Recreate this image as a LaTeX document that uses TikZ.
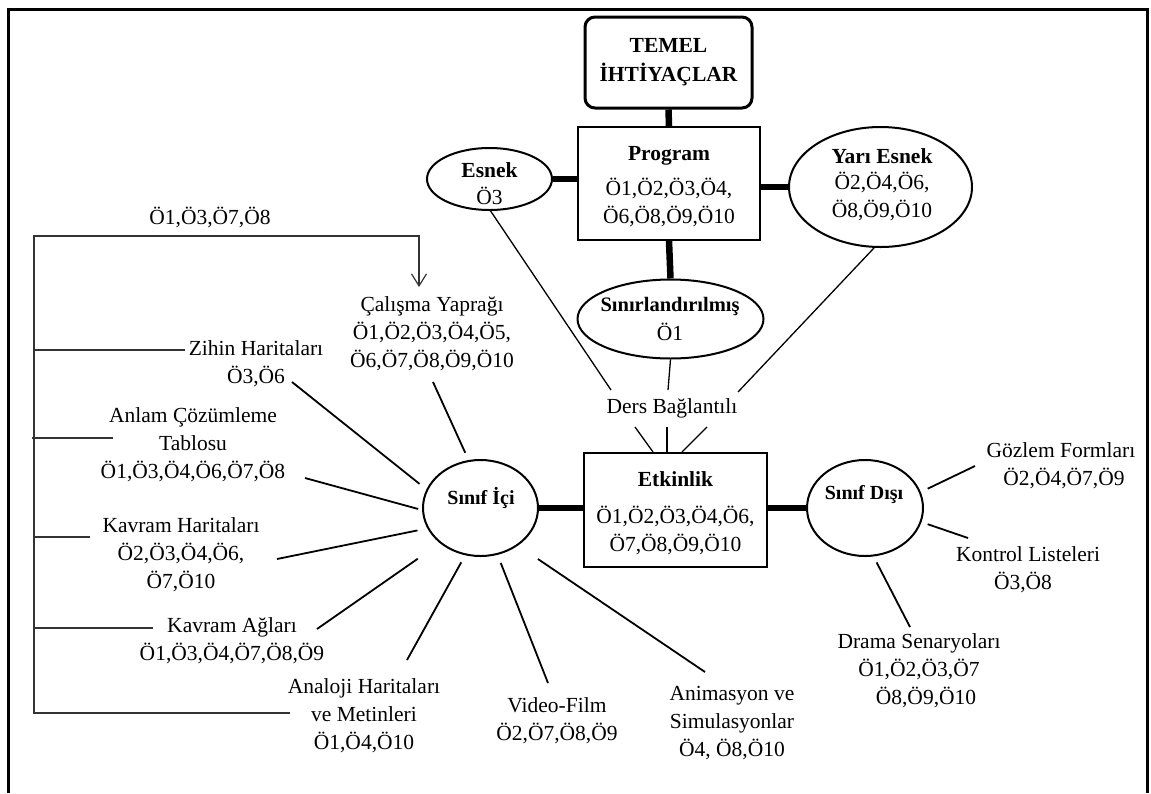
\documentclass[tikz,border=0pt]{standalone}
\usepackage{fontspec}
\setmainfont{Liberation Serif}
\usetikzlibrary{shapes.geometric,arrows.meta,calc}
\begin{document}
\begin{tikzpicture}[x=1pt,y=-1pt,
  txt/.style={font=\fontsize{21.5}{28}\selectfont, align=center, inner sep=0pt},
  btxt/.style={font=\fontsize{21.5}{29}\selectfont\bfseries, align=center, inner sep=0pt},
  stxt/.style={font=\fontsize{20}{24}\selectfont\bfseries, inner sep=0pt},
  oval/.style={ellipse, draw, line width=2pt, inner sep=0pt},
  box/.style={draw, line width=2pt, inner sep=0pt},
  heavy/.style={line width=6.5pt},
  branch/.style={line width=1.8pt},
  slim/.style={line width=1.3pt},
  bracket/.style={line width=1.2pt, draw=black!80},
]
\useasboundingbox (0,0) rectangle (1151,793);
\draw[line width=3pt] (8,793) -- (8,9) -- (1147,9) -- (1147,793);

% ---- top part
\node[box, rounded corners=10pt, line width=3pt, minimum width=167pt, minimum height=91pt, btxt] (temel) at (668.5,62.5) {TEMEL\\İHTİYAÇLAR};
\node[box, minimum width=182pt, minimum height=113pt] (program) at (669,183.5) {};
\node[txt] (programT) at (669,186.5) {\textbf{Program}\\[7pt]Ö1,Ö2,Ö3,Ö4,\\Ö6,Ö8,Ö9,Ö10};
\node[oval, minimum width=125pt, minimum height=62pt] (esnek) at (489.5,179) {};
\node[txt] (esnekT) at (489.5,183.5) {\textbf{Esnek}\\[-1pt]Ö3};
\node[oval, minimum width=183pt, minimum height=120pt] (yari) at (880.5,187) {};
\node[txt] (yariT) at (882,185) {\textbf{Yarı Esnek}\\[-2pt]Ö2,Ö4,Ö6,\\Ö8,Ö9,Ö10};
\node[oval, minimum width=186pt, minimum height=79pt] (sinir) at (670.5,319) {};
\node[txt] (sinirT) at (670,319) {{\fontsize{20.5}{28}\selectfont\bfseries Sınırlandırılmış}\\[1pt]Ö1};

\draw[heavy] (temel.south) -- (program.north);
\draw[heavy] (program.west |- esnek.east) -- (esnek.east);
\draw[heavy] (program.east |- yari.west) -- (yari.west);
\draw[heavy] (program.south) -- (sinir.north);

% ---- Ders Baglantili
\node[txt] (ders) at (672,408) {Ders Bağlantılı};
\coordinate (dersNW) at (611,390);
\coordinate (dersN) at (668,390);
\coordinate (dersNE) at (738,392);
\coordinate (dersSW) at (635,427);
\coordinate (dersS) at (667,427);
\coordinate (dersSE) at (707,427);
\draw[slim] (esnek.272) -- (dersNW);
\draw[slim] (yari.264) -- (dersNE);
\draw[slim] (sinir.south) -- (dersN);

% ---- Etkinlik and classes
\node[box, minimum width=183pt, minimum height=114pt] (etk) at (675.5,510) {};
\node[txt] (etkT) at (675.5,513) {\textbf{Etkinlik}\\[9pt]Ö1,Ö2,Ö3,Ö4,Ö6,\\Ö7,Ö8,Ö9,Ö10};
\draw[slim] (dersSW) -- ($(etk.north)+(-22.5,0)$);
\draw[slim] (dersS) -- ($(etk.north)+(-8.5,0)$);
\draw[slim] (dersSE) -- ($(etk.north)+(6.5,0)$);

\node[oval, minimum width=115pt, minimum height=96pt] (ici) at (480.5,508) {};
\node[stxt] (iciT) at (481,498) {Sınıf İçi};
\node[oval, minimum width=116pt, minimum height=96pt] (disi) at (865,508) {};
\node[stxt] (disiT) at (864,495) {Sınıf Dışı};
\draw[heavy] (ici.east) -- (etk.west |- ici.east);
\draw[heavy] (etk.east |- disi.west) -- (disi.west);

% ---- Sinif Disi branches
\node[txt] (gozlem) at (1061,466) {Gözlem Formları\\\hspace*{6pt}Ö2,Ö4,Ö7,Ö9};
\node[txt] (kontrol) at (1028,569.5) {Kontrol Listeleri\\Ö3,Ö8\hspace*{10pt}};
\node[txt] (drama) at (919,671) {Drama Senaryoları\\Ö1,Ö2,Ö3,Ö7\\\hspace*{14pt}Ö8,Ö9,Ö10};
\coordinate (gozlemE) at (975,466);
\coordinate (kontrolE) at (968,538);
\coordinate (dramaE) at (910,627);
\draw[branch, shorten >=7.6pt] (gozlemE) -- (disi.16);
\draw[branch, shorten >=6.5pt] (kontrolE) -- (disi.346);
\draw[branch, shorten >=6.6pt] (dramaE) -- (disi.280);

% ---- Sinif Ici branches
\node[txt] (calisma) at (432,334) {Çalışma Yaprağı\\Ö1,Ö2,Ö3,Ö4,Ö5,\\Ö6,Ö7,Ö8,Ö9,Ö10};
\node[txt] (zihin) at (256,364) {Zihin Haritaları\\Ö3,Ö6};
\node[txt] (anlam) at (193,445) {Anlam Çözümleme\\Tablosu\\Ö1,Ö3,Ö4,Ö6,Ö7,Ö8};
\node[txt] (kavramh) at (181,555) {Kavram Haritaları\\Ö2,Ö3,Ö4,Ö6,\\Ö7,Ö10};
\node[txt] (kavrama) at (232,640.5) {Kavram Ağları\\Ö1,Ö3,Ö4,Ö7,Ö8,Ö9};
\node[txt] (analoji) at (364,716) {Analoji Haritaları\\ve Metinleri\\Ö1,Ö4,Ö10};
\node[txt] (video) at (557,721) {Video-Film\\Ö2,Ö7,Ö8,Ö9};
\node[txt] (anim) at (732,723) {Animasyon ve\\Simulasyonlar\\Ö4, Ö8,Ö10};

\coordinate (calismaE) at (433,382);
\coordinate (zihinE) at (292,382);
\coordinate (anlamE) at (305,478);
\coordinate (kavramhE) at (277,559);
\coordinate (kavramaE) at (317,629);
\coordinate (analojiE) at (407,660);
\coordinate (videoE) at (548,683);
\coordinate (animE) at (705,672);
\draw[branch, shorten >=8pt] (calismaE) -- (ici.104);
\draw[branch, shorten >=8.8pt] (zihinE) -- (ici.161);
\draw[branch, shorten >=4pt] (anlamE) -- (ici.182);
\draw[branch, shorten >=10pt] (kavramhE) -- (ici.201);
\draw[branch, shorten >=27pt] (kavramaE) -- (ici.221);
\draw[branch, shorten >=8pt] (analojiE) -- (ici.252);
\draw[branch, shorten >=8.6pt] (videoE) -- (ici.290);
\draw[branch, shorten >=24pt] (animE) -- (ici.315);

% ---- left bracket
\node[txt] (topT) at (210,217) {Ö1,Ö3,Ö7,Ö8};
\coordinate (brTop) at (34,236);
\coordinate (brBot) at (34,713);
\coordinate (brCorner) at (419,236);
\coordinate (calTip) at (419,287);
\coordinate (zihinL) at (185,350);
\coordinate (anlamL) at (113,438);
\coordinate (kavramhL) at (90,537);
\coordinate (kavramaL) at (153,628);
\coordinate (analojiL) at (290,713);
\draw[bracket, -{Straight Barb[length=12pt,width=15pt,line width=1.2pt]}]
  (analojiL) -- (brBot) -- (brTop) -- (brCorner) -- (calTip);
\draw[bracket] (brTop |- zihinL) -- (zihinL);
\draw[bracket] ([xshift=-2pt]brTop |- anlamL) -- (anlamL);
\draw[bracket] (brTop |- kavramhL) -- (kavramhL);
\draw[bracket] (brTop |- kavramaL) -- (kavramaL);
\end{tikzpicture}
\end{document}
